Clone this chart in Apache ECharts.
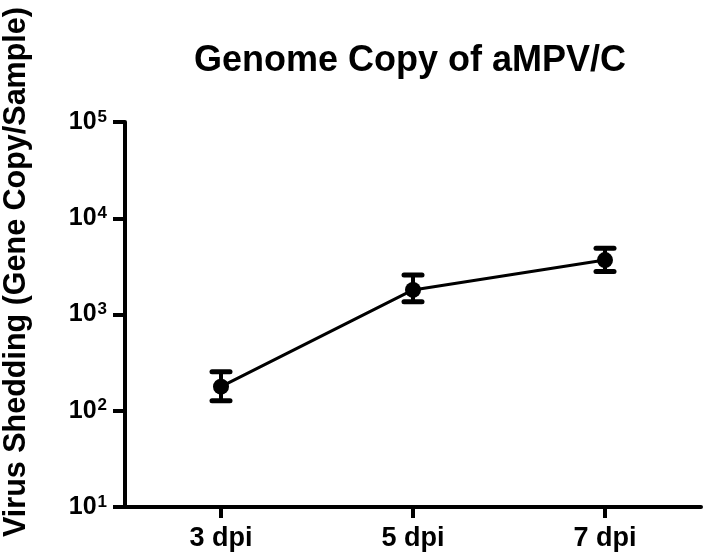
<!DOCTYPE html>
<html>
<head>
<meta charset="utf-8">
<script src="https://cdn.jsdelivr.net/npm/echarts@6/dist/echarts.min.js"></script>
<style>
html,body{margin:0;padding:0;background:#fff;}
#chart{width:708px;height:559px;}
</style>
</head>
<body>
<div id="chart"></div>
<script>
var categories = ['3 dpi', '5 dpi', '7 dpi'];
var meanValues = [178, 1800, 3680];
var upperValues = [254, 2570, 4880];
var lowerValues = [127, 1360, 2790];
var titleText = 'Genome Copy of aMPV/C';
var yAxisTitle = 'Virus Shedding (Gene Copy/Sample)';

var FONT = '"Liberation Sans", Arial, sans-serif';
var chart = echarts.init(document.getElementById('chart'));

var errData = categories.map(function (c, i) { return [i, lowerValues[i], upperValues[i]]; });

chart.setOption({
  animation: false,
  backgroundColor: '#ffffff',
  graphic: [{
    type: 'text',
    x: 410,
    y: 61,
    style: {
      text: titleText,
      fontFamily: FONT,
      fontWeight: 'bold',
      fontSize: 36,
      fill: '#000',
      textAlign: 'center',
      textVerticalAlign: 'middle'
    }
  }, {
    type: 'text',
    x: 17,
    y: 272,
    rotation: Math.PI / 2,
    style: {
      text: yAxisTitle,
      fontFamily: FONT,
      fontWeight: 'bold',
      fontSize: 30.5,
      fill: '#000',
      textAlign: 'center',
      textVerticalAlign: 'middle'
    }
  }],
  grid: { left: 125, right: 7, top: 122, bottom: 52 },
  xAxis: {
    type: 'category',
    data: categories,
    boundaryGap: true,
    axisLine: { show: true, lineStyle: { color: '#000', width: 4 } },
    axisTick: { show: true, alignWithLabel: true, length: 11, lineStyle: { color: '#000', width: 4 } },
    axisLabel: { fontFamily: FONT, fontWeight: 'bold', fontSize: 27, color: '#000', margin: 18 },
    splitLine: { show: false }
  },
  yAxis: {
    type: 'log',
    logBase: 10,
    min: 10,
    max: 100000,
    axisLine: { show: true, lineStyle: { color: '#000', width: 4 } },
    axisTick: { show: true, length: 12, lineStyle: { color: '#000', width: 4 } },
    splitLine: { show: false },
    axisLabel: {
      margin: 18,
      formatter: function (v) {
        var e = Math.round(Math.log10(v));
        return '{b|10}{s|' + e + '}';
      },
      rich: {
        b: { fontFamily: FONT, fontWeight: 'bold', fontSize: 25, color: '#000', lineHeight: 27 },
        s: { fontFamily: FONT, fontWeight: 'bold', fontSize: 17, color: '#000', verticalAlign: 'top', lineHeight: 27, padding: [0, 0, 10, 1] }
      }
    }
  },
  series: [
    {
      type: 'line',
      data: meanValues,
      symbol: 'circle',
      symbolSize: 16,
      itemStyle: { color: '#000' },
      lineStyle: { color: '#000', width: 3 },
      z: 3
    },
    {
      type: 'custom',
      data: errData,
      z: 4,
      renderItem: function (params, api) {
        var x = api.value(0);
        var top = api.coord([x, api.value(2)]);
        var bot = api.coord([x, api.value(1)]);
        var hw = 9;
        var st = { stroke: '#000', lineWidth: 5, lineCap: 'round' };
        return {
          type: 'group',
          children: [
            { type: 'line', shape: { x1: top[0], y1: top[1], x2: bot[0], y2: bot[1] }, style: { stroke: '#000', lineWidth: 4 } },
            { type: 'line', shape: { x1: top[0] - hw, y1: top[1], x2: top[0] + hw, y2: top[1] }, style: st },
            { type: 'line', shape: { x1: bot[0] - hw, y1: bot[1], x2: bot[0] + hw, y2: bot[1] }, style: st }
          ]
        };
      }
    }
  ]
});
</script>
</body>
</html>
